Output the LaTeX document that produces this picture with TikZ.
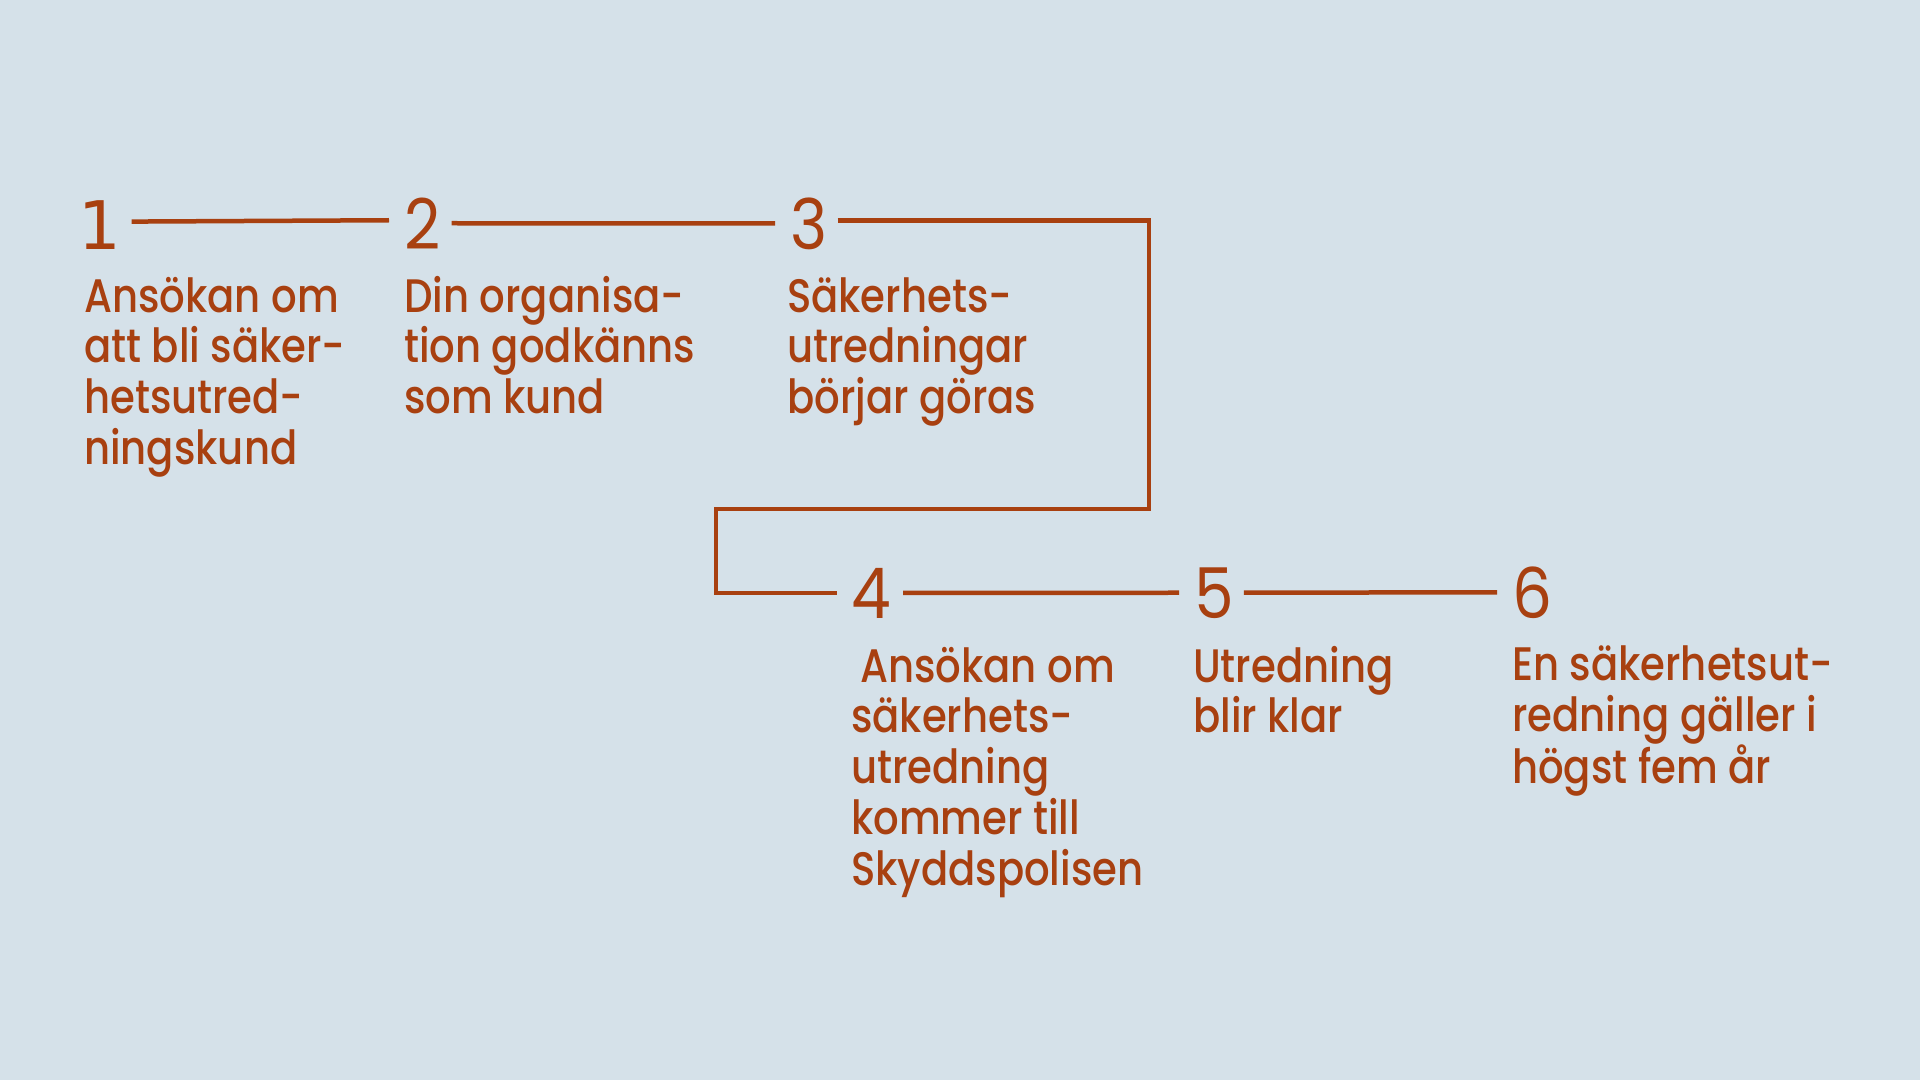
\documentclass[tikz,border=0pt]{standalone}
\usepackage{fontspec}
\setmainfont{Poppins}
\newfontfamily\txtfont[FakeStretch=0.855]{Poppins Medium}
\newfontfamily\numfont[FakeStretch=0.9]{Poppins}
\newfontfamily\onefont{DejaVu Sans}
\definecolor{bgc}{RGB}{213,225,233}
\definecolor{rust}{RGB}{168,64,16}
\begin{document}
\begin{tikzpicture}[x=1pt,y=-1pt,
  every node/.style={inner sep=0pt,text=rust},
  num/.style={font=\numfont\fontsize{70}{70}\selectfont,anchor=base west},
  lbl/.style={font=\txtfont\fontsize{47}{50.8}\selectfont,anchor=base west,align=left},
  rail/.style={draw=rust,line width=4.5pt}]
\fill[bgc] (0,0) rectangle (1920,1080);
\useasboundingbox (0,0) rectangle (1920,1080);
% numbers
\node[num,font=\onefont\fontsize{67}{67}\selectfont] (n1) at (78.5,249) {1};
\node[num] (n2) at (404,249) {2};
\node[num] (n3) at (790,249) {3};
\node[num] (n4) at (851,618) {4};
\node[num] (n5) at (1194,618) {5};
\node[num] (n6) at (1512,618) {6};
% labels (anchored at the baseline of their last line)
\node[lbl] (l1) at (84,464.4) {Ansökan om\\att bli säker-\\hetsutred-\\ningskund};
\node[lbl] (l2) at (404,413.6) {Din organisa-\\tion godkänns\\som kund};
\node[lbl] (l3) at (787,413.6) {Säkerhets-\\utredningar\\börjar göras};
\node[lbl] (l4) at (851,885.2) {\hspace*{9pt}Ansökan om\\säkerhets-\\utredning\\kommer till\\Skyddspolisen};
\node[lbl] (l5) at (1193,732.8) {Utredning\\blir klar};
\node[lbl] (l6) at (1512,783.6) {En säkerhetsut-\\redning gäller i\\högst fem år};
% connectors
\coordinate (r1) at (1149,509);
\draw[rail] ([xshift=10pt,yshift=3pt]n1.east) -- ([xshift=-15pt,yshift=3pt]n2.west);
\draw[rail] ([xshift=11pt]n2.east) -- ([xshift=-15pt]n3.west);
\draw[rail] ([xshift=10pt,yshift=3pt]n3.east) -| (r1) -| ([xshift=-135pt]n4.west) -- ([xshift=-14pt]n4.west);
\draw[rail] ([xshift=12pt]n4.east) -- ([xshift=-15pt]n5.west);
\draw[rail] ([xshift=10pt]n5.east) -- ([xshift=-15pt]n6.west);
\end{tikzpicture}
\end{document}
